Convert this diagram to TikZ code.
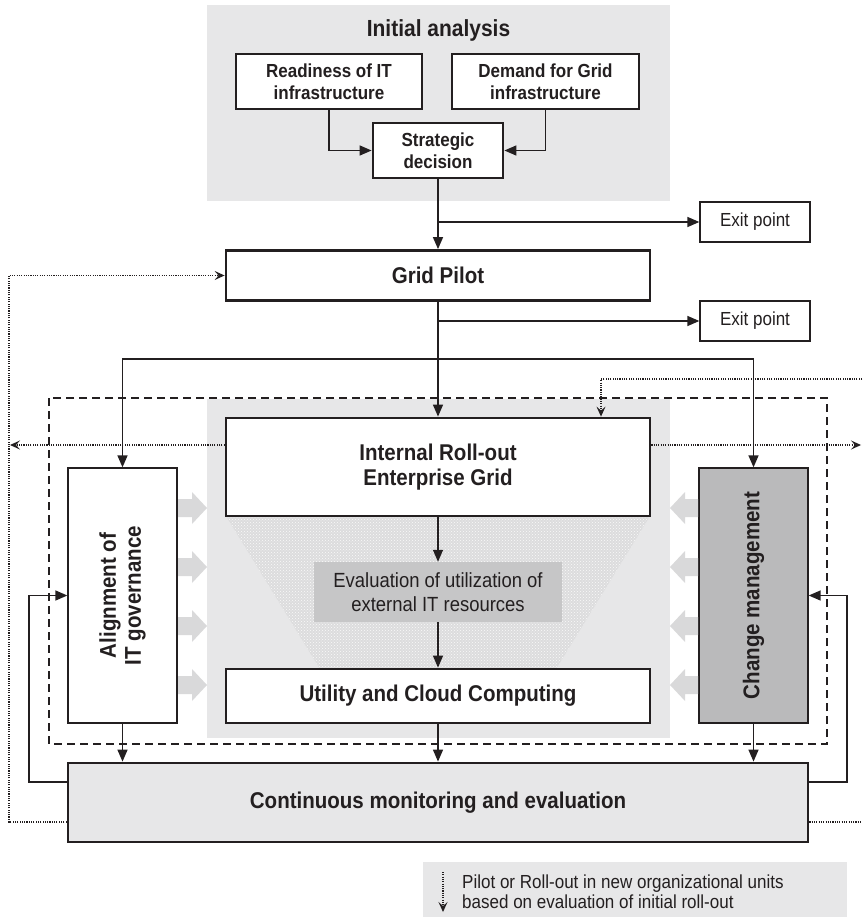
\documentclass[tikz,border=0pt]{standalone}
\usepackage{fontspec}
\setmainfont{Liberation Sans}[FakeStretch=0.9]
\usetikzlibrary{arrows.meta,calc,patterns}
\definecolor{bgg}{HTML}{E7E7E8}
\definecolor{trap}{HTML}{DCDCDD}
\definecolor{evalg}{HTML}{C6C6C7}
\definecolor{chg}{HTML}{BABABB}
\definecolor{harr}{HTML}{D9D9DA}
\definecolor{ink}{HTML}{231F20}
\tikzset{
  thinbox/.style={draw=ink, line width=1.3pt, fill=white, align=center, inner sep=0pt, text=ink},
  thickbox/.style={draw=ink, line width=2.8pt, fill=white, align=center, inner sep=0pt, text=ink},
  arr/.style={draw=ink, line width=1.4pt, -{Triangle[length=12pt,width=10pt]}},
  dotl/.style={draw=ink, line width=1.2pt, dash pattern=on 1.1pt off 1.2pt},
  dotarr/.style={dotl, -{Stealth[length=10pt,width=9pt,inset=4pt]}},
  dashl/.style={draw=ink, line width=1.5pt, dash pattern=on 8pt off 5pt},
  harrow/.style={fill=harr},
  bfont/.style={font=\fontsize{18.9}{22}\selectfont\bfseries},
  bigfont/.style={font=\fontsize{22.8}{25}\selectfont\bfseries},
}
\begin{document}
\begin{tikzpicture}[x=1pt,y=-1pt]
\useasboundingbox (0,0) rectangle (862,917);
% backgrounds
\fill[bgg] (207,5) rectangle (670,201);
\fill[bgg] (207,399) rectangle (670,738);
\fill[trap] (226,516) -- (650,516) -- (556,669) -- (320,669) -- cycle;
\fill[pattern=crosshatch dots, pattern color=white!80!bgg] (226,516) -- (650,516) -- (556,669) -- (320,669) -- cycle;
\fill[bgg] (423,862) rectangle (847,917);
% dashed frame
\draw[dashl] (49,398) rectangle (827,744);
% initial analysis
\node[text=ink, font=\fontsize{23.3}{25}\selectfont\bfseries] (title) at (438.5,30) {Initial analysis};
\node[thinbox, bfont, minimum width=186pt, minimum height=55pt] (ready) at (329,81.5) {Readiness of IT\\infrastructure};
\node[thinbox, bfont, minimum width=187pt, minimum height=55pt] (demand) at (545.5,81.5) {Demand for Grid\\infrastructure};
\node[thickbox, bfont, minimum width=130pt, minimum height=55pt] (strat) at (438,150.5) {Strategic\\decision};
\node[thinbox, font=\fontsize{18.9}{20}\selectfont, minimum width=110pt, minimum height=40pt] (exit1) at (755,222) {Exit point};
\node[thickbox, bigfont, minimum width=424pt, minimum height=50pt] (pilot) at (438,275.5) {Grid Pilot};
\node[thinbox, font=\fontsize{18.9}{20}\selectfont, minimum width=110pt, minimum height=40pt] (exit2) at (755,321) {Exit point};
% center column
\node[thickbox, bigfont, minimum width=424pt, minimum height=98pt] (internal) at (438,467) {Internal Roll-out\\Enterprise Grid};
\node[fill=evalg, text=ink, align=center, inner sep=0pt, font=\fontsize{20.5}{24}\selectfont, minimum width=248pt, minimum height=60pt] (eval) at (438,592) {Evaluation of utilization of\\external IT resources};
\node[thickbox, bigfont, minimum width=424pt, minimum height=54pt] (utility) at (438,696) {Utility and Cloud Computing};
% side boxes
\node[thinbox, minimum width=109pt, minimum height=255pt] (align) at (122.5,595.5) {};
\node[text=ink, bigfont, align=center, rotate=90] (alignt) at (align.center) {Alignment of\\IT governance};
\node[thinbox, fill=chg, minimum width=109pt, minimum height=255pt] (change) at (753.5,595.5) {};
\node[text=ink, bigfont, rotate=90] (changet) at (change.center) {Change management};
% hatched arrows
\foreach \yy in {508,567,626,685}{
  \fill[harrow] (178,\yy-9) -- (192,\yy-9) -- (192,\yy-16) -- (207,\yy) -- (192,\yy+16) -- (192,\yy+9) -- (178,\yy+9) -- cycle;
  \fill[harrow] (698,\yy-9) -- (685,\yy-9) -- (685,\yy-16) -- (670,\yy) -- (685,\yy+16) -- (685,\yy+9) -- (698,\yy+9) -- cycle;
}
% continuous monitoring
\node[thickbox, fill=bgg, bigfont, minimum width=740pt, minimum height=79pt] (cont) at (438,802.5) {Continuous monitoring and evaluation};
% solid connectors
\draw[arr] (ready.south) |- (strat.west);
\draw[arr] (demand.south) |- (strat.east);
\draw[arr] (strat.south) -- (pilot.north);
\draw[arr] (strat.south |- exit1.west) -- (exit1.west);
\draw[arr] (pilot.south) -- (internal.north);
\draw[arr] (pilot.south |- exit2.west) -- (exit2.west);
\coordinate (split) at (438,359);
\draw[arr] (split) -| (align.north);
\draw[arr] (split) -| (change.north);
\draw[arr] (internal.south) -- (eval.north);
\draw[arr] (eval.south) -- (utility.north);
\draw[arr] (align.south) -- (align.south |- cont.north);
\draw[arr] (utility.south) -- (cont.north);
\draw[arr] (change.south) -- (change.south |- cont.north);
\coordinate (fl) at (29,595.5);
\coordinate (fr) at (847,595.5);
\draw[arr] ([yshift=20.5pt]cont.west) -| (fl) -- (align.west);
\draw[arr] ([yshift=20.5pt]cont.east) -| (fr) -- (change.east);
% dotted connectors
\coordinate (lc) at (9,275.5);
\draw[dotarr] ([yshift=-19.5pt]cont.west) -| (lc) -- (pilot.west);
\coordinate (lx) at (10,445);
\draw[dotarr] ([yshift=22pt]internal.west) -- (lx);
\coordinate (rx) at (861,445);
\draw[dotarr] ([yshift=22pt]internal.east) -- (rx);
\coordinate (rt) at (862,379);
\draw[dotarr] (rt) -| ([xshift=163pt]internal.north);
\coordinate (rb) at (862,822);
\draw[dotl] ([yshift=-19.5pt]cont.east) -- (rb);
% legend
\coordinate (lg1) at (443,872);
\coordinate (lg2) at (443,912);
\draw[dotarr] (lg1) -- (lg2);
\node[anchor=west, text=ink, align=left, inner sep=0pt, font=\fontsize{18.9}{20.5}\selectfont] (legt) at (462,891.5) {Pilot or Roll-out in new organizational units\\based on evaluation of initial roll-out};
\end{tikzpicture}
\end{document}
